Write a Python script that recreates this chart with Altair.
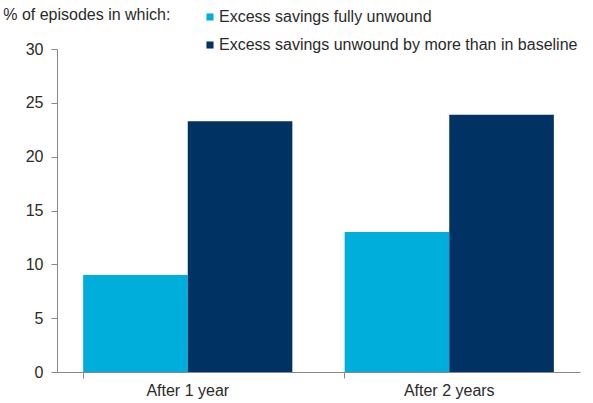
import altair as alt
import pandas as pd

categories = ["After 1 year", "After 2 years"]
series = ["Excess savings fully unwound", "Excess savings unwound by more than in baseline"]
fully = [9.0, 13.0]
more_than_baseline = [23.3, 23.9]
colors = ["#00AEDB", "#003263"]

rows = []
for i, c in enumerate(categories):
    rows.append({"period": c, "series": series[0], "value": fully[i]})
    rows.append({"period": c, "series": series[1], "value": more_than_baseline[i]})
df = pd.DataFrame(rows)

font = "Liberation Sans"
txt = "#2a2a2a"

chart = alt.Chart(df).mark_bar().encode(
    x=alt.X("period:N", sort=categories, title=None,
            scale=alt.Scale(paddingInner=0.2, paddingOuter=0.1),
            axis=alt.Axis(labelAngle=0, bandPosition=0, tickSize=6, tickColor="#888",
                          domainColor="#888", labelFontSize=16, labelColor=txt,
                          labelFont=font, labelPadding=4, grid=False)),
    xOffset=alt.XOffset("series:N", sort=series),
    y=alt.Y("value:Q", title=None,
            scale=alt.Scale(domain=[0, 30], nice=False),
            axis=alt.Axis(values=[0, 5, 10, 15, 20, 25, 30], tickSize=6, tickColor="#888",
                          domainColor="#888", labelFontSize=16, labelColor=txt,
                          labelFont=font, labelPadding=8, grid=False)),
    color=alt.Color("series:N", sort=series,
                    scale=alt.Scale(domain=series, range=colors),
                    legend=alt.Legend(title=None, orient="none", legendX=145, legendY=-40,
                                      symbolType="square", symbolSize=50, symbolStrokeWidth=0,
                                      labelFontSize=16, labelFont=font, labelColor=txt,
                                      labelLimit=500, rowPadding=12, labelOffset=1)),
).properties(
    width=523, height=323,
    title=alt.TitleParams("% of episodes in which:", anchor="start", dx=-22, dy=14, offset=0,
                          fontSize=16, fontWeight="normal", font=font, color=txt),
    autosize=alt.AutoSizeParams(type="none"),
    padding={"left": 57, "top": 49, "right": 13, "bottom": 31},
).configure_view(stroke=None)

chart.save("out.html", embed_options={"renderer": "svg", "actions": False})
